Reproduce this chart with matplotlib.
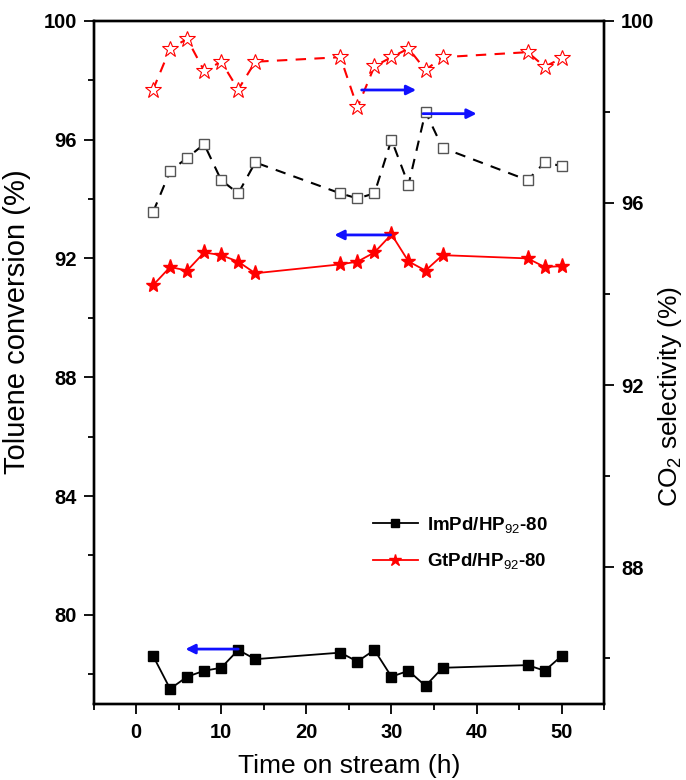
import numpy as np
import matplotlib
matplotlib.use('Agg')
import matplotlib.pyplot as plt
from matplotlib.ticker import MultipleLocator

plt.rcParams['font.family'] = ['Liberation Sans', 'DejaVu Sans']
plt.rcParams['mathtext.fontset'] = 'custom'
plt.rcParams['mathtext.rm'] = 'Liberation Sans'
plt.rcParams['mathtext.default'] = 'rm'

# time on stream, h
t = [2, 4, 6, 8, 10, 12, 14, 24, 26, 28, 30, 32, 34, 36, 46, 48, 50]

# toluene conversion (%), left axis
conv_im = [78.62, 77.51, 77.92, 78.12, 78.22, 78.82, 78.51, 78.73, 78.43, 78.82,
           77.92, 78.12, 77.61, 78.22, 78.31, 78.12, 78.62]
conv_gt = [91.10, 91.71, 91.59, 92.20, 92.11, 91.89, 91.50, 91.80, 91.89, 92.20,
           92.81, 91.90, 91.59, 92.11, 92.00, 91.71, 91.74]

# CO2 selectivity (%), right axis
sel_im = [95.80, 96.70, 96.99, 97.29, 96.50, 96.21, 96.89, 96.21, 96.10, 96.21,
          97.39, 96.40, 98.00, 97.21, 96.50, 96.89, 96.81]
sel_gt = [98.49, 99.39, 99.60, 98.90, 99.10, 98.49, 99.10, 99.20, 98.10, 99.00,
          99.20, 99.39, 98.92, 99.20, 99.31, 98.99, 99.18]

labels = ['ImPd/HP$_{92}$-80', 'GtPd/HP$_{92}$-80']

# arrows: (tail x, head x, y)
arrows_left = [(12.0, 5.8, 78.85), (29.9, 23.3, 92.79)]
arrows_right = [(26.5, 32.9, 98.48), (33.7, 40.0, 97.96)]

fig = plt.figure(figsize=(6.86, 7.8), dpi=100)
ax = fig.add_axes([0.1363, 0.0974, 0.7446, 0.876])
ax2 = ax.twinx()

ax.plot(t, conv_im, color='black', lw=1.3, marker='s', ms=7, label=labels[0])
ax.plot(t, conv_gt, color='red', lw=1.3, marker='*', ms=11, label=labels[1])

ax2.plot(t, sel_im, color='black', lw=1.5, ls=(0, (5, 4)), marker='s', ms=7,
         mfc='white', mec='#555555', mew=1.0)
ax2.plot(t, sel_gt, color='red', lw=1.5, ls=(0, (5, 4)), marker='*', ms=12,
         mfc='white', mec='red', mew=0.8)

for x0, x1, y in arrows_left:
    ax.annotate('', xy=(x1, y), xytext=(x0, y),
                arrowprops=dict(arrowstyle='-|>', color='#1010ff', lw=2,
                                mutation_scale=14, shrinkA=0, shrinkB=0))
for x0, x1, y in arrows_right:
    ax2.annotate('', xy=(x1, y), xytext=(x0, y),
                 arrowprops=dict(arrowstyle='-|>', color='#1010ff', lw=2,
                                 mutation_scale=14, shrinkA=0, shrinkB=0))

ax.set_xlim(-5, 55)
ax.set_ylim(77, 100)
ax2.set_ylim(85, 100)

ax.xaxis.set_major_locator(MultipleLocator(10))
ax.xaxis.set_minor_locator(MultipleLocator(5))
ax.yaxis.set_major_locator(MultipleLocator(4))
ax.yaxis.set_minor_locator(MultipleLocator(2))
ax2.yaxis.set_major_locator(MultipleLocator(4))
ax2.yaxis.set_minor_locator(MultipleLocator(2))

for a in (ax, ax2):
    for s in a.spines.values():
        s.set_linewidth(1.7)
    a.tick_params(which='major', direction='out', length=7, width=1.3,
                  labelsize=14.5, pad=5)
    a.tick_params(which='minor', direction='out', length=4, width=1.3)
    for lab in a.get_xticklabels() + a.get_yticklabels():
        lab.set_fontweight('bold')
ax.tick_params(axis='x', which='both', top=False, pad=7)
ax.tick_params(axis='y', which='both', right=False)

ax.set_xlabel('Time on stream (h)', fontsize=19, labelpad=8)
ax.set_ylabel('Toluene conversion (%)', fontsize=21)
ax.yaxis.set_label_coords(-0.122, 0.56)
ax2.set_ylabel('CO$_2$ selectivity (%)', fontsize=19)
ax2.yaxis.set_label_coords(1.102, 0.45)

leg = ax.legend(loc='center left', bbox_to_anchor=(0.547, 0.2356), frameon=False,
                borderpad=0, borderaxespad=0, handlelength=2.4, handletextpad=0.5,
                labelspacing=0.9, markerscale=0.8, numpoints=1,
                prop={'size': 13.5, 'weight': 'bold'})

fig.savefig('out.png', dpi=100)
